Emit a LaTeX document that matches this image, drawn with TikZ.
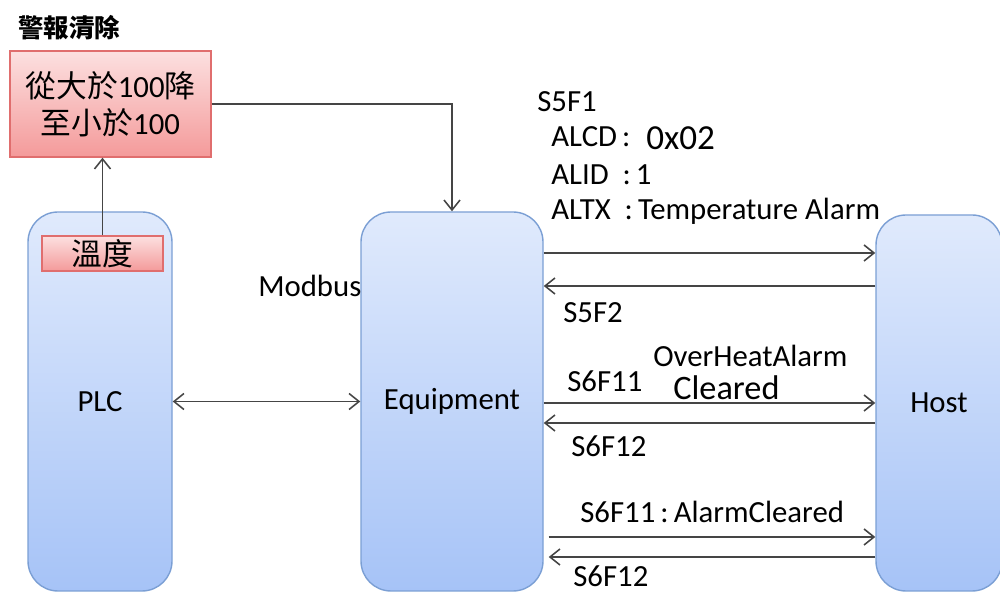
\documentclass[tikz,border=0pt]{standalone}
\usepackage{fontspec}
\setmainfont{Carlito}
\newfontfamily\cjk{Noto Sans CJK TC}
\usepackage{tikz}
\usetikzlibrary{arrows.meta, positioning}

\definecolor{unitborder}{HTML}{7B9FD4}
\definecolor{unittop}{HTML}{E0EAFC}
\definecolor{unitbottom}{HTML}{A6C3F7}
\definecolor{alarmborder}{HTML}{E06E6E}
\definecolor{alarmtop}{HTML}{FCE0E0}
\definecolor{alarmbottom}{HTML}{F49A9A}
\definecolor{linegray}{HTML}{454545}

\begin{document}
\begin{tikzpicture}
        [
        font=\fontsize{17.5}{21}\selectfont,
        >={Straight Barb[length=2mm, width=3.2mm]},
        unit/.style={draw=unitborder, line width=0.8pt, rounded corners=0.6cm, top color=unittop, bottom color=unitbottom},
        alarmbox/.style={draw=alarmborder, line width=0.8pt, top color=alarmtop, bottom color=alarmbottom, align=center, inner sep=0pt},
        arrow/.style={->, draw=linegray, line width=0.9pt},
        msg/.style={anchor=base west, inner sep=0pt}
        ]
        \useasboundingbox (0,0) rectangle (20,11.84);

        \node[unit, minimum width=2.88cm, minimum height=7.58cm] (plc) at (2.0,3.81) {PLC};
        \node[unit, minimum width=3.64cm, minimum height=7.58cm] (equip) at (9.04,3.81) {Equipment};
        \node[unit, minimum width=2.52cm, minimum height=7.52cm] (host) at (18.78,3.78) {Host};

        \node[font=\fontsize{14.5}{17}\selectfont\cjk\bfseries] (title) at (1.38,11.28) {警報清除};
        \node[alarmbox, minimum width=4.02cm, minimum height=2.12cm] (alarm) at (2.21,9.76)
            {{\cjk 從大於}100{\cjk 降}\\{\cjk 至小於}100};
        \node[alarmbox, minimum width=2.42cm, minimum height=0.70cm] (temp) at (2.05,6.77) {\cjk 溫度};

        \draw[arrow] (temp.north) -- (temp.north |- alarm.south);
        \draw[arrow] (alarm.east) -| (equip.north);
        \draw[arrow, <->] (plc) -- (equip);
        \node[msg] (modbus) at (5.16,5.9) {Modbus};

        % S5F1 / S5F2
        \node[msg] (s5f1) at (10.74,9.6) {S5F1};
        \node[msg] (alcd) at (11.02,8.9) {ALCD\,:};
        \node[msg, font=\fontsize{20}{24}\selectfont] (alcdval) at (12.92,8.84) {0x02};
        \node[msg] (alid) at (11.02,8.14) {ALID~~:\,1};
        \node[msg] (altx) at (11.02,7.44) {ALTX~~:\,Temperature Alarm};
        \coordinate (m1) at (0,6.78);
        \coordinate (m2) at (0,6.12);
        \draw[arrow] (equip.east |- m1) -- (host.west |- m1);
        \draw[arrow] (host.west |- m2) -- (equip.east |- m2);
        \node[msg] (s5f2) at (11.26,5.38) {S5F2};

        % S6F11 / S6F12
        \node[msg] (s6f11a) at (11.34,4.0) {S6F11};
        \node[msg] (overheat) at (13.06,4.5) {OverHeatAlarm};
        \node[msg, font=\fontsize{19.5}{23}\selectfont] (cleared) at (13.46,3.84) {Cleared};
        \coordinate (m3) at (0,3.78);
        \coordinate (m4) at (0,3.38);
        \draw[arrow] (equip.east |- m3) -- (host.west |- m3);
        \draw[arrow] (host.west |- m4) -- (equip.east |- m4);
        \node[msg] (s6f12a) at (11.42,2.7) {S6F12};

        \node[msg] (s6f11b) at (11.6,1.38) {S6F11\,:\,AlarmCleared};
        \coordinate (m5) at (0,1.10);
        \coordinate (m6) at (0,0.70);
        \draw[arrow, shorten <=0.1cm] (equip.east |- m5) -- (host.west |- m5);
        \draw[arrow, shorten >=0.1cm] (host.west |- m6) -- (equip.east |- m6);
        \node[msg] (s6f12b) at (11.46,0.1) {S6F12};

    \end{tikzpicture}
\end{document}
